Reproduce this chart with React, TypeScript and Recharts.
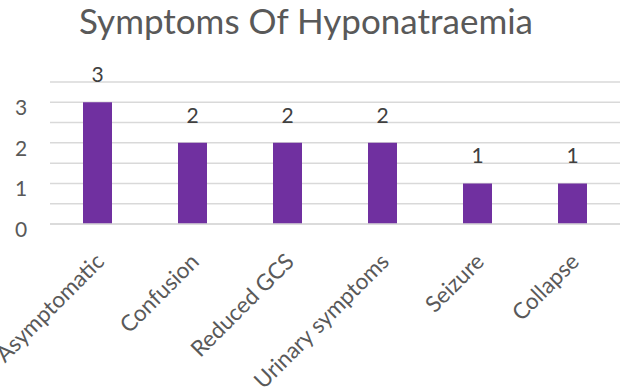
import { Bar, BarChart, CartesianGrid, LabelList, XAxis, YAxis } from "recharts";

const symptoms = [
  "Asymptomatic",
  "Confusion",
  "Reduced GCS",
  "Urinary symptoms",
  "Seizure",
  "Collapse",
];
const counts = [3, 2, 2, 2, 1, 1];
const gridTicks = [0, 0.5, 1, 1.5, 2, 2.5, 3, 3.5];
const labelledTicks = [0, 1, 2, 3];

const data = symptoms.map((name, i) => ({ name, count: counts[i] }));

const FONT = "Lato, 'Open Sans', sans-serif";

function YTick({ y, payload }: any) {
  if (!labelledTicks.includes(payload.value)) return null;
  return (
    <text x={21} y={y + 13} textAnchor="middle" fill="#595959" fontSize={21} fontFamily={FONT}>
      {payload.value}
    </text>
  );
}

function XTick({ x, y, payload }: any) {
  const tx = x + 8;
  const ty = y + 31;
  return (
    <text
      x={tx}
      y={ty}
      textAnchor="end"
      fill="#595959"
      fontSize={22.5}
      fontFamily={FONT}
      transform={`rotate(-45 ${tx} ${ty})`}
    >
      {payload.value}
    </text>
  );
}

function ValueLabel({ x, y, width, value }: any) {
  return (
    <text x={x + width / 2} y={y - 20} textAnchor="middle" fill="#404040" fontSize={21} fontFamily={FONT}>
      {value}
    </text>
  );
}

export default function App() {
  return (
    <div style={{ position: "absolute", left: 0, top: 0, width: 620, height: 389, background: "#fff" }}>
      <div
        style={{
          position: "absolute",
          left: 0,
          top: 0,
          width: 612,
          textAlign: "center",
          fontFamily: FONT,
          fontSize: 35,
          lineHeight: "40px",
          color: "#595959",
          whiteSpace: "nowrap",
        }}
      >
        Symptoms Of Hyponatraemia
      </div>
      <BarChart width={620} height={389} data={data} margin={{ top: 82, right: 0, bottom: 0, left: 0 }}>
        <CartesianGrid vertical={false} stroke="#d9d9d9" strokeWidth={1.5} />
        <XAxis
          dataKey="name"
          axisLine={{ stroke: "#d9d9d9", strokeWidth: 1.5 }}
          tickLine={false}
          interval={0}
          height={165}
          tick={<XTick />}
        />
        <YAxis
          domain={[0, 3.5]}
          ticks={gridTicks}
          interval={0}
          axisLine={false}
          tickLine={false}
          width={50}
          tick={<YTick />}
        />
        <Bar dataKey="count" fill="#7030A0" barSize={29} isAnimationActive={false}>
          <LabelList dataKey="count" content={<ValueLabel />} />
        </Bar>
      </BarChart>
    </div>
  );
}
